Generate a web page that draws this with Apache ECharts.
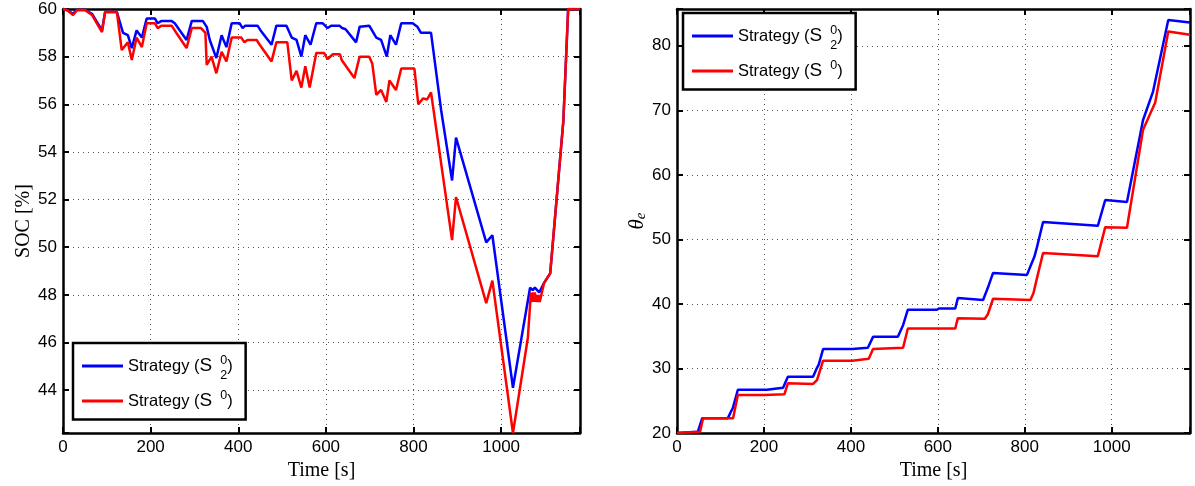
<!DOCTYPE html>
<html><head><meta charset="utf-8">
<script src="https://cdn.jsdelivr.net/npm/echarts@6/dist/echarts.min.js"></script>
<style>html,body{margin:0;padding:0;background:#fff}#c{width:1195px;height:486px}</style>
</head><body><div id="c"></div>
<script>
// ---- Left panel: SOC [%] ----
const socS2Time  = [0,10,23,32,50,66,89,96,123,137,148,157,168,180,191,210,216,225,248,255,282,294,319,328,335,350,362,373,385,403,410,416,444,451,476,487,510,522,533,544,553,565,578,593,604,612,631,637,645,669,677,699,703,715,726,739,747,760,772,798,809,817,840,863,888,897,966,980,1027,1066,1072,1077,1087,1098,1112,1142,1153,1180];
const socS2Value = [60.0,59.95,59.8,59.96,59.96,59.8,59.1,59.87,59.87,59.0,58.9,58.36,59.1,58.8,59.6,59.6,59.4,59.5,59.5,59.4,58.7,59.5,59.5,59.25,58.7,57.94,58.9,58.4,59.4,59.4,59.2,59.3,59.3,59.1,58.5,59.3,59.3,58.8,58.7,58.0,58.9,58.5,59.4,59.4,59.2,59.3,59.3,59.2,59.15,58.6,59.25,59.3,59.25,58.8,58.7,58.0,58.9,58.5,59.4,59.4,59.25,59.0,59.0,55.76,52.8,54.6,50.2,50.5,44.1,48.3,48.2,48.3,48.1,48.5,48.9,55.3,60.0,60.0];
const socS0Time  = [0,10,23,32,50,66,89,96,123,134,148,157,168,180,191,210,216,225,248,255,282,294,315,325,328,339,350,362,373,385,407,414,421,442,449,476,487,512,522,533,544,553,563,578,596,604,616,632,636,665,677,699,706,715,726,738,745,760,772,802,811,822,831,840,888,897,966,980,1027,1061,1068,1071,1073,1075,1077,1079,1081,1083,1085,1088,1091,1098,1112,1142,1153,1180];
const socS0Value = [60.0,59.95,59.75,59.96,59.96,59.75,59.03,59.87,59.87,58.28,58.6,57.86,58.8,58.4,59.4,59.4,59.2,59.3,59.3,59.1,58.36,59.2,59.2,59.0,57.65,58.0,57.3,58.2,57.8,58.8,58.8,58.6,58.7,58.7,58.5,57.8,58.6,58.6,57.0,57.4,56.7,57.6,56.7,58.15,58.15,57.9,58.1,58.1,57.86,57.1,58.0,58.0,57.7,56.4,56.6,56.1,57.0,56.6,57.5,57.5,56.0,56.25,56.2,56.5,50.3,52.1,47.65,48.6,42.2,46.2,48.1,47.7,48.1,47.7,48.1,47.7,48.0,47.7,48.0,47.7,47.7,48.5,48.9,55.3,60.0,60.0];
// ---- Right panel: theta_e ----
const thS2Time  = [0,48,58,117,124,128,140,207,210,244,255,313,322,326,336,403,439,451,508,520,531,598,603,640,646,704,715,727,805,817,822,828,842,968,985,1035,1072,1095,1130,1180];
const thS2Value = [20.0,20.2,22.3,22.3,23.3,23.8,26.7,26.7,27.0,27.0,28.7,28.7,30.1,30.6,33.0,33.0,33.2,34.9,34.9,36.7,39.1,39.1,39.3,39.3,40.9,40.6,42.5,44.8,44.5,46.5,47.3,48.8,52.7,52.1,56.1,55.8,68.5,72.9,84.0,83.6];
const thS0Time  = [0,53,60,129,140,201,205,247,255,313,322,336,403,441,451,520,531,640,646,708,715,727,813,820,828,842,968,985,1035,1072,1100,1130,1180];
const thS0Value = [20.0,20.2,22.3,22.3,25.9,25.9,26.0,26.0,27.7,27.6,28.2,31.2,31.2,31.5,33.0,33.2,36.2,36.2,37.8,37.7,38.4,40.8,40.6,41.7,44.0,47.9,47.4,51.9,51.8,67.0,71.2,82.2,81.7];

const xTicks = [0,200,400,600,800,1000];
const socTicks = [44,46,48,50,52,54,56,58,60];
const thTicks = [20,30,40,50,60,70,80];
const seriesNames = ['S2','S0'];

const zip = (t, v) => t.map((x, i) => [x, v[i]]);
const BLUE = '#0000ff', RED = '#ff0000';
const sans = 'Liberation Sans', serif = 'Liberation Serif';

function xAxes(g) {
  const base = {type:'value', gridIndex:g, min:0, max:1180, interval:200,
    axisLine:{show:true, onZero:false, lineStyle:{color:'#000', width:2.5}},
    axisTick:{show:true, inside:true, length:6, lineStyle:{color:'#000', width:2}}};
  return [
    Object.assign({}, base, {position:'bottom',
      axisLabel:{color:'#000', fontFamily:sans, fontSize:17, margin:6,
        formatter: v => xTicks.includes(v) ? String(v) : ''},
      splitLine:{show:true, lineStyle:{color:'#555', type:[1,4], width:1}},
      name:'Time [s]', nameLocation:'middle', nameGap:25,
      nameTextStyle:{fontFamily:serif, fontSize:20, color:'#000'}}),
    Object.assign({}, base, {position:'top', axisLabel:{show:false}, splitLine:{show:false}})
  ];
}
function yAxes(g, cfg, ticks, name, nameGap, nameStyle) {
  const base = Object.assign({type:'value', gridIndex:g,
    axisLine:{show:true, onZero:false, lineStyle:{color:'#000', width:2.5}},
    axisTick:{show:true, inside:true, length:6, lineStyle:{color:'#000', width:2}}}, cfg);
  return [
    Object.assign({}, base, {position:'left',
      axisLabel:{color:'#000', fontFamily:sans, fontSize:17, margin:6,
        formatter: v => ticks.some(t => Math.abs(t - v) < 1e-6) ? String(Math.round(v)) : ''},
      splitLine:{show:true, lineStyle:{color:'#555', type:[1,4], width:1}},
      name:name, nameLocation:'middle', nameGap:nameGap, nameTextStyle:nameStyle}),
    Object.assign({}, base, {position:'right', axisLabel:{show:false}, splitLine:{show:false}})
  ];
}

const legendRich = {
  t:{fontFamily:sans, fontSize:16.5, color:'#000', lineHeight:32},
  S:{fontFamily:sans, fontSize:19, color:'#000', lineHeight:32, padding:[0,3,0,0]},
  sup:{fontFamily:sans, fontSize:12.5, color:'#000', width:0, verticalAlign:'top', padding:[4,0,0,5]},
  sub:{fontFamily:sans, fontSize:12.5, color:'#000', verticalAlign:'bottom', padding:[0,0,0,0]},
  sup0:{fontFamily:sans, fontSize:12.5, color:'#000', verticalAlign:'top', padding:[4,0,0,5]}
};
function legend(left, top) {
  return {left:left, top:top, orient:'vertical', data:seriesNames, icon:'rect',
    itemWidth:41, itemHeight:3, itemGap:7, itemTextGap:5, padding:[11,13,9,9],
    borderColor:'#000', borderWidth:2.5, backgroundColor:'#fff', selectedMode:false,
    textStyle:{rich:legendRich},
    formatter: n => n === 'S2' ? '{t|Strategy (}{S|S}{sup|0}{sub|2}{t|)}' : '{t|Strategy (}{S|S}{sup0|0}{t|)}'};
}
function line(name, data, color, xi, yi) {
  return {type:'line', name:name, data:data, xAxisIndex:xi, yAxisIndex:yi, color:color,
    symbol:'none', showSymbol:false, lineStyle:{color:color, width:2.5}, animation:false, z:color===RED?3:2};
}

const chart = echarts.init(document.getElementById('c'), null, {renderer:'canvas'});
chart.setOption({
  backgroundColor:'#fff',
  animation:false,
  grid:[
    {left:63, top:9, width:517, height:424},
    {left:677, top:9, width:513, height:424}
  ],
  xAxis: xAxes(0).concat(xAxes(1)),
  yAxis: yAxes(0, {min:42.2, max:60, splitNumber:9}, socTicks, 'SOC [%]', 29,
            {fontFamily:serif, fontSize:20, color:'#000'})
    .concat(yAxes(1, {min:20, max:85.7, interval:10}, thTicks, '{i|θ}{s|e}', 28,
            {rich:{i:{fontFamily:serif, fontStyle:'italic', fontSize:21, color:'#000'},
                   s:{fontFamily:serif, fontStyle:'italic', fontSize:15, color:'#000', verticalAlign:'bottom'}}})),
  legend:[legend(73, 343), legend(683, 13)],
  series:[
    line('S2', zip(socS2Time, socS2Value), BLUE, 0, 0),
    line('S0', zip(socS0Time, socS0Value), RED, 0, 0),
    line('S2', zip(thS2Time, thS2Value), BLUE, 2, 2),
    line('S0', zip(thS0Time, thS0Value), RED, 2, 2)
  ]
});
</script></body></html>
